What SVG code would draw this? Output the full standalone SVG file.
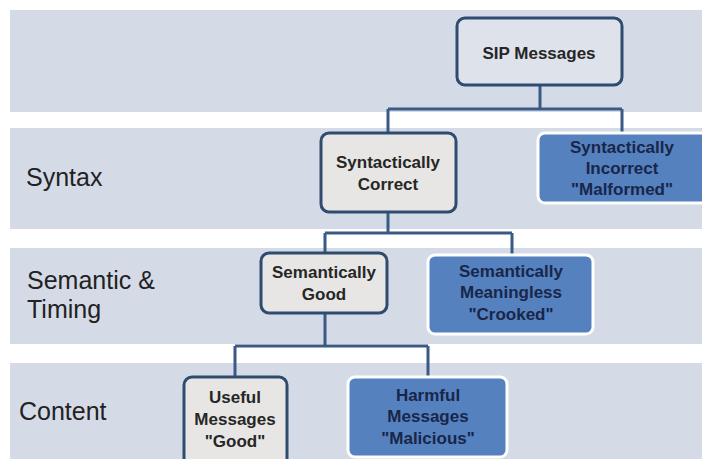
<svg xmlns="http://www.w3.org/2000/svg" width="702" height="459" viewBox="0 0 702 459">
<style>
.band{fill:#d4dbe7}
.lbl{font-family:"Liberation Sans",Arial,sans-serif;font-size:25px;fill:#222}
.gbox{fill:#e7e6e4;stroke:#2f4b70;stroke-width:3}
.bbox{fill:#5581bf;stroke:#ffffff;stroke-width:3}
.sbox{fill:#dde2eb;stroke:#2f4b70;stroke-width:3}
.t{font-family:"Liberation Sans",Arial,sans-serif;font-size:17px;font-weight:bold;text-anchor:middle}
.tg{fill:#262626}
.tb{fill:#18264a}
.conn{fill:none;stroke:#3a5a86;stroke-width:3}
</style>
<rect width="702" height="459" fill="#ffffff"/>
<g id="bands">
<rect class="band" x="10" y="10" width="692" height="102"/>
<rect class="band" x="10" y="128" width="692" height="101"/>
<rect class="band" x="10" y="248" width="692" height="96"/>
<rect class="band" x="10" y="363" width="692" height="96"/>
</g>
<g id="labels">
<text class="lbl" x="26" y="186">Syntax</text>
<text class="lbl" x="27" y="289">Semantic &amp;</text>
<text class="lbl" x="27" y="318">Timing</text>
<text class="lbl" x="19" y="420">Content</text>
</g>
<g id="connectors">
<path class="conn" d="M540 85 V109 M388 109 H622 M388 109 V133 M622 109 V133"/>
<path class="conn" d="M388 212 V233 M325 233 H512 M325 233 V253 M512 233 V255"/>
<path class="conn" d="M325 313 V346 M235 346 H428 M235 346 V377 M428 346 V377"/>
</g>
<g id="sip">
<rect class="sbox" x="457" y="18" width="165" height="67" rx="8"/>
<text class="t tg" x="539" y="59">SIP Messages</text>
</g>
<g id="syn-correct">
<rect class="gbox" x="321" y="133" width="135" height="79" rx="8"/>
<text class="t tg" x="388" y="168">Syntactically</text>
<text class="t tg" x="388" y="190">Correct</text>
</g>
<g id="syn-incorrect">
<rect class="bbox" x="538" y="133" width="170" height="70" rx="7"/>
<text class="t tb" x="622" y="153">Syntactically</text>
<text class="t tb" x="622" y="174">Incorrect</text>
<text class="t tb" x="622" y="195">"Malformed"</text>
</g>
<g id="sem-good">
<rect class="gbox" x="261" y="253" width="126" height="60" rx="8"/>
<text class="t tg" x="324" y="278">Semantically</text>
<text class="t tg" x="324" y="300">Good</text>
</g>
<g id="sem-meaningless">
<rect class="bbox" x="428" y="255" width="165" height="79" rx="7"/>
<text class="t tb" x="511" y="277">Semantically</text>
<text class="t tb" x="511" y="298">Meaningless</text>
<text class="t tb" x="511" y="320">"Crooked"</text>
</g>
<g id="useful">
<rect class="gbox" x="184" y="377" width="103" height="95" rx="8"/>
<text class="t tg" x="235" y="403">Useful</text>
<text class="t tg" x="235" y="425">Messages</text>
<text class="t tg" x="235" y="447">"Good"</text>
</g>
<g id="harmful">
<rect class="bbox" x="348" y="377" width="159" height="80" rx="7"/>
<text class="t tb" x="428" y="401">Harmful</text>
<text class="t tb" x="428" y="422">Messages</text>
<text class="t tb" x="428" y="444">"Malicious"</text>
</g>
</svg>
